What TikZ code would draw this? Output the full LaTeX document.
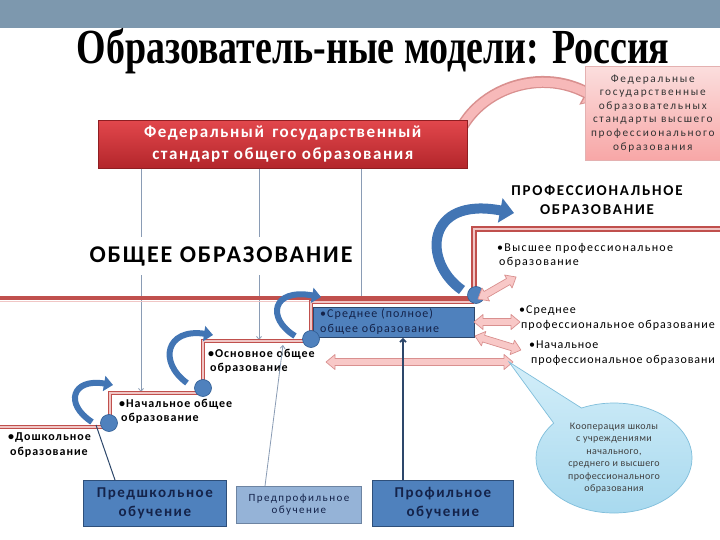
\documentclass[tikz,border=0pt]{standalone}
\usepackage{fontspec}
\usepackage{graphicx}
\setmainfont{Carlito}
\newfontfamily\titlefont{Liberation Serif}
\usetikzlibrary{arrows.meta,shapes.geometric,shapes.callouts}
\definecolor{bandcol}{HTML}{7D98AE}
\definecolor{redline}{HTML}{C0504D}
\definecolor{redpale}{HTML}{F0C6C5}
\definecolor{redtop}{HTML}{E2474C}
\definecolor{redbot}{HTML}{B3262B}
\definecolor{pinkfill}{HTML}{F8C8C7}
\definecolor{pinkedge}{HTML}{D9908F}
\definecolor{pinkbox}{HTML}{F7B9B9}
\definecolor{blueshape}{HTML}{4275B4}
\definecolor{blueedge}{HTML}{2F5C92}
\definecolor{boxblue}{HTML}{4F81BD}
\definecolor{boxedge}{HTML}{2E4F7A}
\definecolor{lightblue}{HTML}{95B3D7}
\definecolor{navytext}{HTML}{14234A}
\definecolor{thinline}{HTML}{8A9CB5}
\definecolor{navyline}{HTML}{2D476B}
\definecolor{cyantop}{HTML}{D3EEF9}
\definecolor{cyanbot}{HTML}{A6D8EE}
\definecolor{cyanedge}{HTML}{7FBEDB}
\newcommand\lsp[1]{\addfontfeature{LetterSpace=#1}}
\begin{document}
\begin{tikzpicture}[x=1pt,y=-1pt,
  stepline/.style={draw=redline,line width=1.2pt,double=redpale,double distance=1.6pt},
  bigstep/.style={draw=redline,line width=1.7pt,double=redpale,double distance=2.2pt},
  dot/.style={circle,fill=boxblue,draw=blueedge,line width=0.6pt,minimum size=17pt,inner sep=0pt},
  bluearc/.style={draw=blueshape,line width=6pt,-{Triangle[width=15pt,length=9pt]}},
  thinlink/.style={draw=thinline,line width=0.8pt,-{Straight Barb[length=3pt,width=5pt]}},
  lbl/.style={anchor=north west,align=left,inner sep=0pt,font=\fontsize{12}{14.5}\selectfont\lsp{11}},
  blbl/.style={anchor=north west,align=left,inner sep=0pt,font=\bfseries\fontsize{12}{14.5}\selectfont\lsp{8}},
  pinkarr/.style={fill=pinkfill,draw=pinkedge,line width=0.7pt,line join=round},
  bluebox/.style={draw=boxedge,line width=0.8pt,fill=boxblue,anchor=north west,align=center,text=navytext,font=\bfseries\fontsize{15}{19}\selectfont\lsp{10}},
  pics/parrow/.style={code={\filldraw[pinkarr] (0,0) -- (9,7.5) -- (9,3.5) -- ({#1-9},3.5) -- ({#1-9},7.5) -- (#1,0) -- ({#1-9},-7.5) -- ({#1-9},-3.5) -- (9,-3.5) -- (9,-7.5) -- cycle;}}
]
\useasboundingbox (0,0) rectangle (720,540);
\fill[white] (0,0) rectangle (720,540);
\fill[bandcol] (0,0) rectangle (720,28);

% title
\node (title) at (373,51) {\titlefont\bfseries\fontsize{49}{49}\selectfont\scalebox{0.775}[1]{Образователь-ные модели: Россия}};

% pink curved arrow (behind red box)
\coordinate (parcS) at (452,165);
\coordinate (parcE) at (600,100);
\draw[draw=pinkedge,line width=12pt,-{Triangle[width=27pt,length=16pt]}] (parcS) .. controls (452,100) and (530,62) .. (parcE);
\draw[draw=pinkbox,line width=9pt,shorten >=1.5pt,-{Triangle[width=22pt,length=13pt]}] (parcS) .. controls (452,100) and (530,62) .. (parcE);

% federal standard box
\node[anchor=north west,minimum width=369pt,minimum height=48pt,draw=redbot!80!black,line width=0.6pt,top color=redtop,bottom color=redbot,align=center,text=white,font=\bfseries\fontsize{17}{22}\selectfont\lsp{9}] (fgos) at (98,120) {Федеральный\, государственный\\стандарт общего образования};

% pink top right box
\node[anchor=north west,minimum width=135pt,minimum height=94pt,draw=pinkedge!70,line width=0.5pt,top color=pinkfill!60,bottom color=pinkbox!90!red,align=center,text=black!80,font=\fontsize{11.3}{13.6}\selectfont\lsp{15},inner sep=1pt] (fgosvpo) at (585,66) {Федеральные\\государственные\\образовательных\\стандарты высшего\\профессионального\\образования};

% thin vertical lines from the standard
\coordinate (tNach) at (141,392);
\coordinate (tOsn) at (259,340);
\coordinate (tSred) at (361,299);
\draw[thinlink] (fgos.south -| tNach) -- (tNach);
\draw[thinlink] (fgos.south -| tOsn) -- (tOsn);
\draw[draw=thinline,line width=0.8pt] (fgos.south -| tSred) -- (tSred);

% general education heading
\node[fill=white,inner xsep=6pt,inner ysep=9pt,font=\bfseries\fontsize{24}{24}\selectfont\lsp{8}] (obshee) at (221,256) {ОБЩЕЕ ОБРАЗОВАНИЕ};

% professional education heading
\node[align=center,font=\bfseries\fontsize{15}{19}\selectfont\lsp{12}] (proff) at (597,200) {ПРОФЕССИОНАЛЬНОЕ\\ОБРАЗОВАНИЕ};

% long red line
\coordinate (lineL) at (0,298);
\coordinate (lineR) at (474,298);
\draw[draw=redline,line width=4.5pt] (lineL) -- (lineR);
\draw[draw=redpale,line width=1pt] (0,301.5) -- (312,301.5);

% higher professional step
\coordinate (hiCorner) at (474,229);
\coordinate (hiRight) at (722,229);
\draw[bigstep] (lineR) -- (hiCorner) -- (hiRight);

% staircase
\coordinate (s0) at (-2,427);
\coordinate (c1) at (110,427);
\coordinate (c1t) at (110,393);
\coordinate (c2) at (203,393);
\coordinate (c2t) at (203,341);
\coordinate (c3) at (311,341);
\coordinate (c3t) at (311,302);
\coordinate (c4) at (474,302);
\draw[stepline] (s0) -- (c1) -- (c1t) -- (c2) -- (c2t) -- (c3) -- (c3t) -- (c4);

% middle (full) general box
\node[anchor=north west,minimum width=161pt,minimum height=30pt,fill=boxblue,draw=navyline,line width=0.8pt] (sred) at (313,307) {};
\node[anchor=north west,align=left,inner sep=0pt,text=navytext,font=\fontsize{12}{14.5}\selectfont\lsp{9}] (sredtxt) at (320,309) {•Среднее (полное)\\общее образование};

% blue curved arrows
\draw[bluearc] (92,422) .. controls (64,404) and (72,378) .. (113,385);
\draw[bluearc] (187,383) .. controls (158,362) and (166,328) .. (213,335);
\draw[bluearc] (295,336) .. controls (266,318) and (272,288) .. (321,297);
\draw[draw=blueshape,line width=10pt,-{Triangle[width=24pt,length=14pt]}] (462,290) .. controls (422,262) and (425,196) .. (514,213);

% dots
\node[dot] (d1) at (109,423) {};
\node[dot] (d2) at (203,388) {};
\node[dot] (d3) at (311,339) {};
\node[dot] (d4) at (476,295) {};

% pink double arrows
\pic[rotate=30] at (478,299) {parrow=44};
\pic at (474,322) {parrow=46};
\pic[rotate=-17] at (475,336) {parrow=48};
\pic at (326,362) {parrow=187};

% labels
\node[lbl] (vyssh) at (497,243) {•Высшее профессиональное\\\,образование};
\node[lbl,font=\fontsize{12}{14.5}\selectfont\lsp{8.5}] (spo) at (519,306) {•Среднее\\\,профессиональное образование};
\node[lbl,font=\fontsize{12}{14.5}\selectfont\lsp{7.5}] (npo) at (529,341) {•Начальное\\\,профессиональное образовани};
\node[blbl] (osn) at (208,349) {•Основное общее\\\,образование};
\node[blbl] (nach) at (119,399) {•Начальное общее\\\,образование};
\node[blbl] (dosh) at (8,433) {•Дошкольное\\\,образование};

% callout
\node[ellipse callout,callout absolute pointer={(509,362)},callout pointer arc=26,minimum width=156pt,minimum height=110pt,top color=cyantop,bottom color=cyanbot,draw=cyanedge,line width=0.7pt,align=center,text=black!75,font=\fontsize{10}{12.4}\selectfont\lsp{4},inner sep=0pt] (coop) at (614,458) {Кооперация школы\\с учреждениями\\начального,\\среднего и высшего\\профессионального\\образования};

% bottom boxes
\node[bluebox,minimum width=143pt,minimum height=46pt] (predsch) at (83,480) {Предшкольное\\обучение};
\node[draw=boxedge!70,line width=0.8pt,fill=lightblue,anchor=north west,align=center,text=navytext,font=\fontsize{11}{12.5}\selectfont\lsp{13},minimum width=125pt,minimum height=37pt] (predprof) at (236,486) {Предпрофильное\\обучение};
\node[bluebox,minimum width=141pt,minimum height=46pt] (profil) at (372,480) {Профильное\\обучение};

% links into the bottom boxes
\coordinate (doshEnd) at (96,425);
\coordinate (psTop) at (115,480);
\coordinate (ppTop) at (265,486);
\coordinate (osnEnd) at (283,345);
\draw[draw=navyline,line width=1pt] (psTop) -- (doshEnd);
\draw[thinlink] (ppTop) -- (osnEnd);
\draw[draw=navyline,line width=1.8pt,-{Straight Barb[length=3pt,width=6pt]}] (profil.north -| 403,0) -- (sred.south -| 403,0);
\end{tikzpicture}
\end{document}
